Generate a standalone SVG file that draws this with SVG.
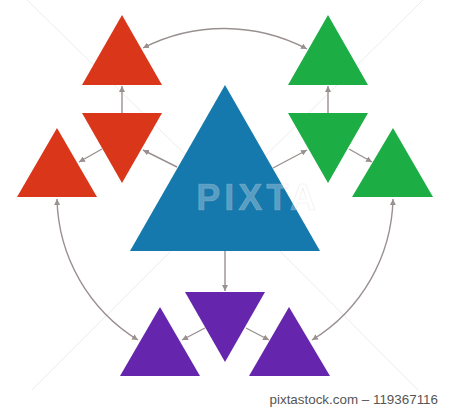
<svg xmlns="http://www.w3.org/2000/svg" width="450" height="409" viewBox="0 0 450 409">
<style>
.red{fill:#D9361A}.green{fill:#1DAD45}.blue{fill:#1679AD}.purple{fill:#6625AD}
.con{fill:none;stroke:#9A9090;stroke-width:1.4}
.wm{fill:none;stroke:#dcdcdc;stroke-width:0.8;opacity:0.7}
</style>
<defs>
<marker id="ah" viewBox="0 0 10 10" refX="10" refY="5" markerWidth="6" markerHeight="6" markerUnits="userSpaceOnUse" orient="auto-start-reverse">
<path d="M0,0 L10,5 L0,10 Z" fill="#9A9090"/>
</marker>
</defs>
<rect width="450" height="409" fill="#fff"/>
<g id="watermark-lines">
<line class="wm" x1="27" y1="0" x2="199" y2="168"/>
<line class="wm" x1="423" y1="0" x2="252" y2="169"/>
<line class="wm" x1="199" y1="223" x2="32" y2="390"/>
<line class="wm" x1="252" y1="223" x2="418" y2="390"/>
</g>
<g id="red-top"><polygon class="red" points="122,15 162,85 82,85"/></g>
<g id="red-mid"><polygon class="red" points="82,113 162,113 122,183"/></g>
<g id="red-left"><polygon class="red" points="57,128 97,197 17,197"/></g>
<g id="green-top"><polygon class="green" points="328,15 368,85 288,85"/></g>
<g id="green-mid"><polygon class="green" points="288,113 368,113 328,183"/></g>
<g id="green-right"><polygon class="green" points="393,128 433,197 352,197"/></g>
<g id="blue-center"><polygon class="blue" points="225,85 320,251 130,251"/></g>
<g id="purple-mid"><polygon class="purple" points="185,292 265,292 225,362"/></g>
<g id="purple-left"><polygon class="purple" points="160,307 200,376 120,376"/></g>
<g id="purple-right"><polygon class="purple" points="289,307 330,376 249,376"/></g>
<g id="connectors">
<line class="con" x1="122" y1="113" x2="122" y2="86" marker-end="url(#ah)"/>
<line class="con" x1="102" y1="149" x2="79" y2="162" marker-end="url(#ah)"/>
<line class="con" x1="177" y1="167" x2="143" y2="150" marker-end="url(#ah)"/>
<line class="con" x1="328" y1="113" x2="328" y2="86" marker-end="url(#ah)"/>
<line class="con" x1="349" y1="149" x2="372" y2="162" marker-end="url(#ah)"/>
<line class="con" x1="273" y1="168" x2="307" y2="150" marker-end="url(#ah)"/>
<line class="con" x1="225" y1="251" x2="225" y2="291" marker-end="url(#ah)"/>
<line class="con" x1="205" y1="328" x2="182" y2="340" marker-end="url(#ah)"/>
<line class="con" x1="246" y1="328" x2="269" y2="340" marker-end="url(#ah)"/>
<path class="con" d="M143,48 A178,178 0 0 1 307,49" marker-start="url(#ah)" marker-end="url(#ah)"/>
<path class="con" d="M57,199 A170,170 0 0 0 138,340" marker-start="url(#ah)" marker-end="url(#ah)"/>
<path class="con" d="M393,199 A170,170 0 0 1 312,340" marker-start="url(#ah)" marker-end="url(#ah)"/>
</g>
<g id="watermark">
<text x="258" y="210" text-anchor="middle" font-family="Liberation Sans, Arial, sans-serif" font-weight="bold" font-size="36" letter-spacing="4" fill="#ffffff" fill-opacity="0.3" stroke="#cccccc" stroke-opacity="0.4" stroke-width="0.6">PIXTA</text>
</g>
<text x="438" y="404" text-anchor="end" font-family="Liberation Sans, Arial, sans-serif" font-size="13.4" fill="#555555">pixtastock.com – 119367116</text>
</svg>
